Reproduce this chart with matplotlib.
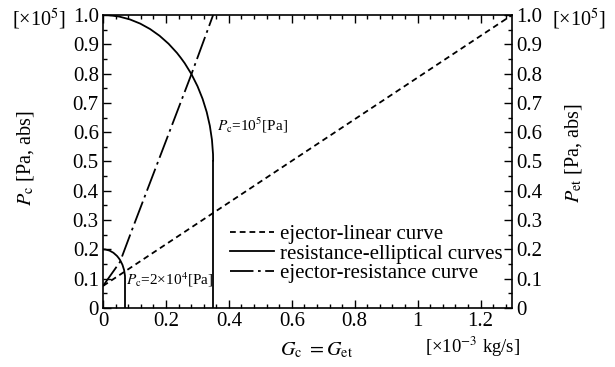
import matplotlib
matplotlib.use('Agg')
import matplotlib.pyplot as plt
from matplotlib.patches import Arc
from matplotlib.lines import Line2D
from matplotlib.ticker import MultipleLocator, FuncFormatter

# ejector-linear curve
lin_x = [0.0, 1.3]
lin_y = [0.075, 1.0]

# ejector-resistance curve
er_x = [0.0, 0.054, 0.092, 0.28, 0.35]
er_y = [0.075, 0.157, 0.266, 0.795, 1.0]

# resistance-elliptical curves: centre y, half-width, half-height
ell_cy = [0.5, 0.1]
ell_a = [0.35, 0.07]
ell_b = [0.5, 0.1]
ell_labels = ['$P_\\mathrm{c}$=10$^5$[Pa]', '$P_\\mathrm{c}$=2×10$^4$[Pa]']
ell_label_pos = [(0.362, 0.625), (0.072, 0.095)]

plt.rcParams['font.family'] = ['Liberation Serif', 'DejaVu Serif']
plt.rcParams['mathtext.fontset'] = 'stix'

fig = plt.figure(figsize=(6.15, 3.67), dpi=100)
ax = fig.add_axes([0.1675, 0.161, 0.665, 0.798])

lw = 1.3
dash = (0, (3.2, 2.2))
dashdot = (0, (13, 2.5, 1.5, 2.5))

ax.plot(lin_x, lin_y, color='k', lw=lw, ls=dash)
ax.plot(er_x, er_y, color='k', lw=lw, ls=dashdot)

for cy, a, b in zip(ell_cy, ell_a, ell_b):
    ax.add_patch(Arc((0, cy), 2 * a, 2 * b, theta1=0, theta2=90,
                     color='k', lw=lw))
    ax.plot([a, a], [0, cy], color='k', lw=lw)

for txt, (tx, ty) in zip(ell_labels, ell_label_pos):
    ax.text(tx, ty, txt, fontsize=11, va='center')

ax.set_xlim(0, 1.3)
ax.set_ylim(0, 1.0)
ax.xaxis.set_major_locator(MultipleLocator(0.2))
ax.xaxis.set_minor_locator(MultipleLocator(0.04))
ax.yaxis.set_major_locator(MultipleLocator(0.1))
ax.yaxis.set_minor_locator(MultipleLocator(0.05))


def fmt_x(v, pos):
    if abs(v) < 1e-9:
        return '0'
    if abs(v - round(v)) < 1e-9:
        return '%d' % round(v)
    return '%.1f' % v


def fmt_y(v, pos):
    if abs(v) < 1e-9:
        return '0'
    return '%.1f' % v


ax.xaxis.set_major_formatter(FuncFormatter(fmt_x))
ax.yaxis.set_major_formatter(FuncFormatter(fmt_y))
ax.tick_params(which='both', direction='in', top=True, right=True,
               labelright=True, labelsize=15, width=1)
ax.tick_params(which='major', length=6)
ax.tick_params(which='minor', length=3)
ax.tick_params(axis='y', which='major', pad=3)
ax.tick_params(axis='x', which='major', pad=3)
for s in ax.spines.values():
    s.set_linewidth(1.2)

fig.text(0.041, 0.569, '$P_\\mathrm{c}$ [Pa, abs]', rotation=90,
         fontsize=14.5, ha='center', va='center')
fig.text(0.933, 0.583, '$P_\\mathrm{et}$ [Pa, abs]', rotation=90,
         fontsize=14.5, ha='center', va='center')
fig.text(0.019, 0.947, '[×10$^5$]', fontsize=14.5, va='center')
fig.text(0.897, 0.947, '[×10$^5$]', fontsize=14.5, va='center')
fig.text(0.691, 0.054, '[×10$^{-3}$ kg/s]', fontsize=13.5, va='center')
fig.text(0.455, 0.046, '$G_\\mathrm{c}$ $=G_\\mathrm{et}$', fontsize=14.5,
         va='center')

handles = [
    Line2D([0], [0], color='k', lw=lw, ls=dash),
    Line2D([0], [0], color='k', lw=lw),
    Line2D([0], [0], color='k', lw=lw, ls=dashdot),
]
labels = ['ejector-linear curve', 'resistance-elliptical curves',
          'ejector-resistance curve']
ax.legend(handles, labels, loc='upper left', bbox_to_anchor=(0.31, 0.285),
          frameon=False, handlelength=2.1, handletextpad=0.3,
          labelspacing=0.0, fontsize=15, borderaxespad=0, borderpad=0)

fig.savefig('out.png', dpi=100)
